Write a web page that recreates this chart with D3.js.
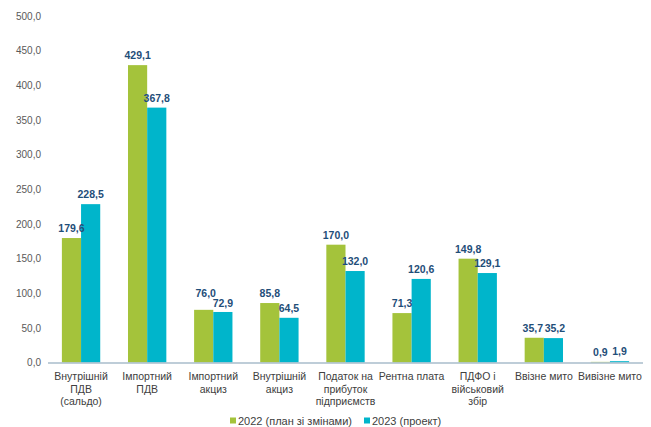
<!DOCTYPE html>
<html><head><meta charset="utf-8">
<script src="https://cdn.jsdelivr.net/npm/d3@7"></script>
<style>body{margin:0;background:#fff}svg{display:block}text{font-family:"Liberation Sans",Arial,sans-serif}</style>
</head><body><svg id="c" width="651" height="427"></svg>
<script>
const categories = [
  ["Внутрішній","ПДВ","(сальдо)"],
  ["Імпортний","ПДВ"],
  ["Імпортний","акциз"],
  ["Внутрішній","акциз"],
  ["Податок на","прибуток","підприємств"],
  ["Рентна плата"],
  ["ПДФО і","військовий","збір"],
  ["Ввізне мито"],
  ["Вивізне мито"]
];
const series2022 = [179.6, 429.1, 76.0, 85.8, 170.0, 71.3, 149.8, 35.7, 0.9];
const series2023 = [228.5, 367.8, 72.9, 64.5, 132.0, 120.6, 129.1, 35.2, 1.9];
const seriesNames = ["2022 (план зі змінами)", "2023 (проект)"];
const yTicks = [0, 50, 100, 150, 200, 250, 300, 350, 400, 450, 500];

const colors = ["#a4c33b", "#00b5cb"];
const svg = d3.select("#c");
const fmt = v => v.toFixed(1).replace(".", ",");

const y = d3.scaleLinear().domain([0, 500]).range([362.5, 16]);
const idx = categories.map((d, i) => i);
const x0 = d3.scaleBand().domain(idx).range([48, 643]).paddingInner(0.42).paddingOuter(0.21);
const x1 = d3.scaleBand().domain([0, 1]).range([0, x0.bandwidth()]);

// y axis labels
const yAxis = d3.axisLeft(y).tickValues(yTicks).tickFormat(fmt).tickSize(0).tickPadding(0);
const ya = svg.append("g").attr("transform", "translate(41,0)").call(yAxis);
ya.select(".domain").remove();
ya.selectAll("text").attr("font-size", 10).attr("fill", "#595959").attr("font-family", '"Liberation Sans",Arial,sans-serif');

const data = idx.map(i => [series2022[i], series2023[i]]);
const labelLift = {"0-2": 7, "1-2": -1};
const labelShift = {"0-2": 2, "0-7": -1.5, "1-7": 1.5};

const g = svg.append("g").selectAll("g").data(data).join("g")
  .attr("transform", (d, i) => `translate(${x0(i)},0)`);
g.selectAll("rect").data(d => d).join("rect")
  .attr("x", (d, j) => x1(j)).attr("width", x1.bandwidth())
  .attr("y", d => y(d)).attr("height", d => y(0) - y(d))
  .attr("fill", (d, j) => colors[j]);
g.each(function(d, i) {
  d3.select(this).selectAll("text").data(d).join("text")
    .attr("x", (v, j) => x1(j) + x1.bandwidth() / 2 + (labelShift[j + "-" + i] || 0))
    .attr("y", (v, j) => y(v) - 6 - (labelLift[j + "-" + i] || 0))
    .attr("text-anchor", "middle").attr("font-size", 10.5).attr("font-weight", "bold")
    .attr("fill", "#1f4e79").text(v => fmt(v));
});

// x axis line
svg.append("line").attr("x1", 48).attr("x2", 643).attr("y1", y(0) + 0.5).attr("y2", y(0) + 0.5)
  .attr("stroke", "#a9bccb").attr("stroke-width", 1.5);

// category labels
const xa = svg.append("g");
idx.forEach(i => {
  const t = xa.append("text").attr("text-anchor", "middle").attr("font-size", 10.5).attr("fill", "#404040")
    .attr("x", x0(i) + x0.bandwidth() / 2).attr("y", 380);
  categories[i].forEach((line, k) => t.append("tspan").attr("x", x0(i) + x0.bandwidth() / 2).attr("dy", k ? 12.6 : 0).text(line));
});

// legend
const legX = [230, 364];
seriesNames.forEach((n, j) => {
  svg.append("rect").attr("x", legX[j]).attr("y", 417.5).attr("width", 6).attr("height", 6).attr("fill", colors[j]);
  svg.append("text").attr("x", legX[j] + 8).attr("y", 424.5).attr("font-size", 11).attr("fill", "#404040").text(n);
});
</script></body></html>
